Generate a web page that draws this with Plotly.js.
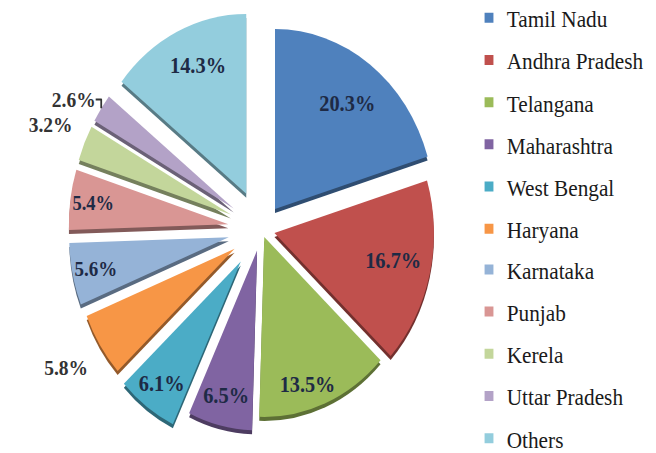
<!DOCTYPE html>
<html>
<head>
<meta charset="utf-8">
<script src="https://cdn.plot.ly/plotly-3.0.1.min.js"></script>
<style>
  html, body { margin: 0; padding: 0; background: #ffffff; overflow: hidden; }
  #wrap { width: 656px; height: 453px; overflow: hidden; }
  #chart { width: 740px; height: 453px; transform: scaleX(0.8865); transform-origin: 0 0; }
</style>
</head>
<body>
<div id="wrap"><div id="chart"></div></div>
<script>
// ---- data ----
var categories = ['Tamil Nadu', 'Andhra Pradesh', 'Telangana', 'Maharashtra', 'West Bengal',
                  'Haryana', 'Karnataka', 'Punjab', 'Kerela', 'Uttar Pradesh', 'Others'];
var shares = [20.3, 16.7, 13.5, 6.5, 6.1, 5.8, 5.6, 5.4, 3.2, 2.6, 14.3];

// ---- style ----
var colors = ['#4F81BD', '#C0504D', '#9BBB59', '#8064A2', '#4BACC6', '#F79646',
              '#95B3D7', '#D99694', '#C3D69B', '#B3A2C7', '#93CDDD'];
var shadeColors = ['#2f4d71', '#73302e', '#5d7035', '#4d3c61', '#2d6777', '#945a2a',
                   '#596b81', '#825a59', '#75805d', '#6b6177', '#587b85'];
var pulls = [0.142, 0.083, 0.045, 0.12, 0.22, 0.20, 0.21, 0.21, 0.21, 0.21, 0.22];
var textPos = ['inside', 'inside', 'inside', 'inside', 'inside', 'outside',
               'inside', 'inside', 'outside', 'outside', 'inside'];
// label templates (non-breaking spaces / empty lines only nudge where the label sits)
var pct = '%{percent:.1%}';
var nb = '\u00a0';
var textTpl = [
  nb + nb + nb + nb + nb + pct + '<br>' + nb,
  nb + nb + nb + nb + nb + nb + pct,
  nb + '<br>' + nb + '<br>' + pct,
  pct,
  pct,
  nb + '<br>' + pct,
  pct,
  pct,
  pct + '<br>' + nb,
  pct,
  pct + '<br>' + nb
];
var legendOf = ['legend', 'legend', 'legend', 'legend', 'legend', 'legend',
                'legend2', 'legend2', 'legend2', 'legend2', 'legend2'];

var domX = [0.0743, 0.7230];

var shadow = {
  type: 'pie',
  values: shares,
  labels: categories,
  sort: false,
  direction: 'clockwise',
  rotation: 0,
  pull: pulls,
  marker: { colors: shadeColors, line: { width: 0 } },
  textinfo: 'none',
  hoverinfo: 'skip',
  showlegend: false,
  domain: { x: domX, y: [0, 0.96909] }
};

var main = {
  type: 'pie',
  values: shares,
  labels: categories,
  sort: false,
  direction: 'clockwise',
  rotation: 0,
  pull: pulls,
  marker: { colors: colors, line: { width: 0 } },
  texttemplate: textTpl,
  textposition: textPos,
  insidetextorientation: 'horizontal',
  insidetextfont: { family: 'Liberation Serif', size: 23, color: '#1e2a45', weight: 'bold' },
  outsidetextfont: { family: 'Liberation Serif', size: 22, color: '#333333', weight: 'bold' },
  hoverinfo: 'label+percent',
  showlegend: false,
  domain: { x: domX, y: [0.00883, 0.97792] }
};

var traces = [shadow, main];

categories.forEach(function (c, i) {
  traces.push({
    type: 'scatter',
    mode: 'markers',
    x: [null],
    y: [null],
    name: c,
    legend: legendOf[i],
    legendgroup: 'g' + i,
    showlegend: true,
    hoverinfo: 'skip',
    marker: { symbol: 'square', size: 10, color: colors[i] }
  });
});

var legendFont = { family: 'Liberation Serif', size: 24, color: '#1a1a1a' };

var layout = {
  width: 740,
  height: 453,
  margin: { l: 0, r: 0, t: 0, b: 0, autoexpand: false },
  paper_bgcolor: '#ffffff',
  plot_bgcolor: 'rgba(0,0,0,0)',
  xaxis: { visible: false },
  yaxis: { visible: false },
  showlegend: true,
  legend: {
    x: 0.7184, xanchor: 'left',
    y: 0.727, yanchor: 'middle',
    traceorder: 'grouped', tracegroupgap: 8,
    font: legendFont, bgcolor: 'rgba(0,0,0,0)'
  },
  legend2: {
    x: 0.7184, xanchor: 'left',
    y: 0.219, yanchor: 'middle',
    traceorder: 'grouped', tracegroupgap: 8,
    font: legendFont, bgcolor: 'rgba(0,0,0,0)'
  }
};

Plotly.newPlot('chart', traces, layout, { displayModeBar: false, staticPlot: true });
</script>
</body>
</html>
